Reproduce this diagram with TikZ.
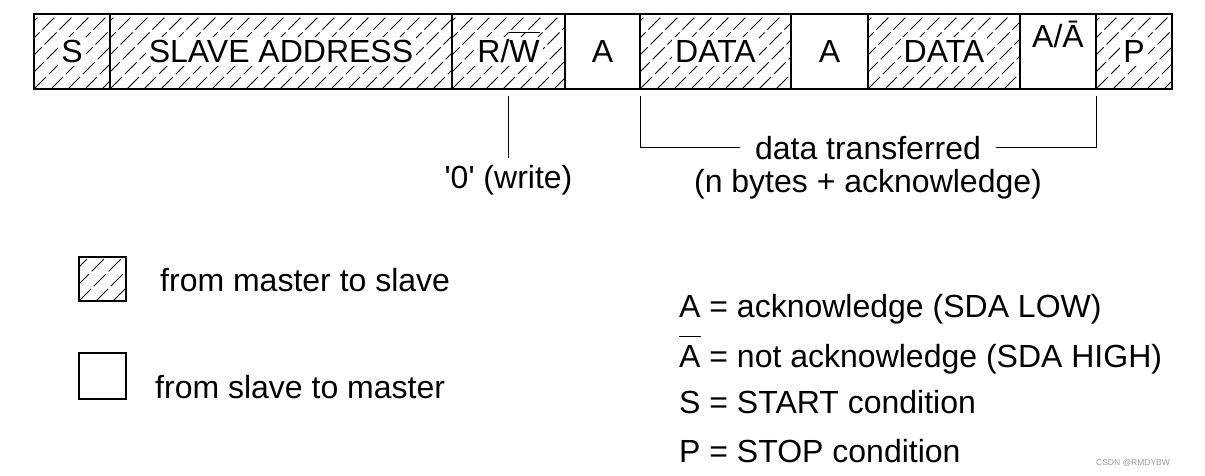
\documentclass[tikz,border=0pt]{standalone}
\usepackage{fontspec}
\setmainfont{Liberation Sans}
\usetikzlibrary{positioning}

\newcommand\bigfont{\fontsize{32}{36}\selectfont}
\newcommand\clr[1]{\colorbox{white}{#1}}
\newcommand\ovl[1]{\setbox0\hbox{#1}\rlap{\raisebox{\dimexpr\ht0+8pt\relax}[0pt][0pt]{\rule{\wd0}{1.3pt}}}\box0\relax}

\tikzset{
  cell/.style={draw, line width=2pt, minimum height=75pt, inner sep=0pt, outer sep=0pt, font=\bigfont},
  hatched/.style={path picture={
      \foreach \k in {-6,...,22}
        \draw[line width=0.9pt, dash pattern=on 17pt off 4pt]
          ([xshift=\k*17pt]path picture bounding box.south west) -- ++(85pt,85pt);
    }},
  conn/.style={line width=1pt},
  txt/.style={font=\bigfont, inner sep=0pt},
  keybox/.style={draw, line width=1.2pt, minimum width=47pt, minimum height=44pt, inner sep=0pt}
}

\begin{document}
\begin{tikzpicture}[x=1pt, y=-1pt]
    \useasboundingbox (0,0) rectangle (1205,476);

    % the frame
    \node[cell, hatched, minimum width=76pt, anchor=north west] (s) at (34,14) {\clr{S}};
    \node[cell, hatched, minimum width=342pt, right=0pt of s] (addr) {\clr{SLAVE ADDRESS}};
    \node[cell, hatched, minimum width=113pt, right=0pt of addr] (rw) {\clr{R/\ovl{W}}};
    \node[cell, minimum width=75pt, right=0pt of rw] (a1) {A};
    \node[cell, hatched, minimum width=151pt, right=0pt of a1] (d1) {\clr{DATA}};
    \node[cell, minimum width=77pt, right=0pt of d1] (a2) {A};
    \node[cell, hatched, minimum width=152pt, right=0pt of a2] (d2) {\clr{DATA}};
    \node[cell, minimum width=76pt, right=0pt of d2] (an) {\raisebox{4pt}[0pt][0pt]{A/Ā}};
    \node[cell, hatched, minimum width=76pt, right=0pt of an] (p) {\clr{P}};

    \node[txt, inner ysep=7pt] (wr) at (508.5,180) {\textquotesingle0\textquotesingle\ (write)};
    \draw[conn] ([yshift=-7pt]rw.south) -- (wr.north);

    \node[txt, inner xsep=15pt] (dt) at (868,148) {data transferred};
    \node[txt] (nb) at (868,184) {(n bytes + acknowledge)};
    \draw[conn] ([yshift=-7pt]d1.south west) |- (dt.west);
    \draw[conn] ([yshift=-7pt]p.south west) |- (dt.east);

    % legend
    \node[keybox, hatched] (km) at (102.5,279) {};
    \node[txt, anchor=west] (kmt) at (160,280) {from master to slave};
    \node[keybox, minimum height=46pt] (ks) at (102.5,376) {};
    \node[txt, anchor=west] (kst) at (155,387) {from slave to master};

    \node[txt, anchor=base west] (ka) at (679,317) {A = acknowledge (SDA LOW)};
    \node[txt, anchor=base west] (kn) at (679,367) {\ovl{A} = not acknowledge (SDA HIGH)};
    \node[txt, anchor=base west] (kst2) at (679,413) {S = START condition};
    \node[txt, anchor=base west] (kp) at (679,462) {P = STOP condition};

    \node[font=\fontsize{8.5}{10}\selectfont, text=black!40, inner sep=0pt] (wm) at (1133,463) {CSDN @RMDYBW};
\end{tikzpicture}
\end{document}
